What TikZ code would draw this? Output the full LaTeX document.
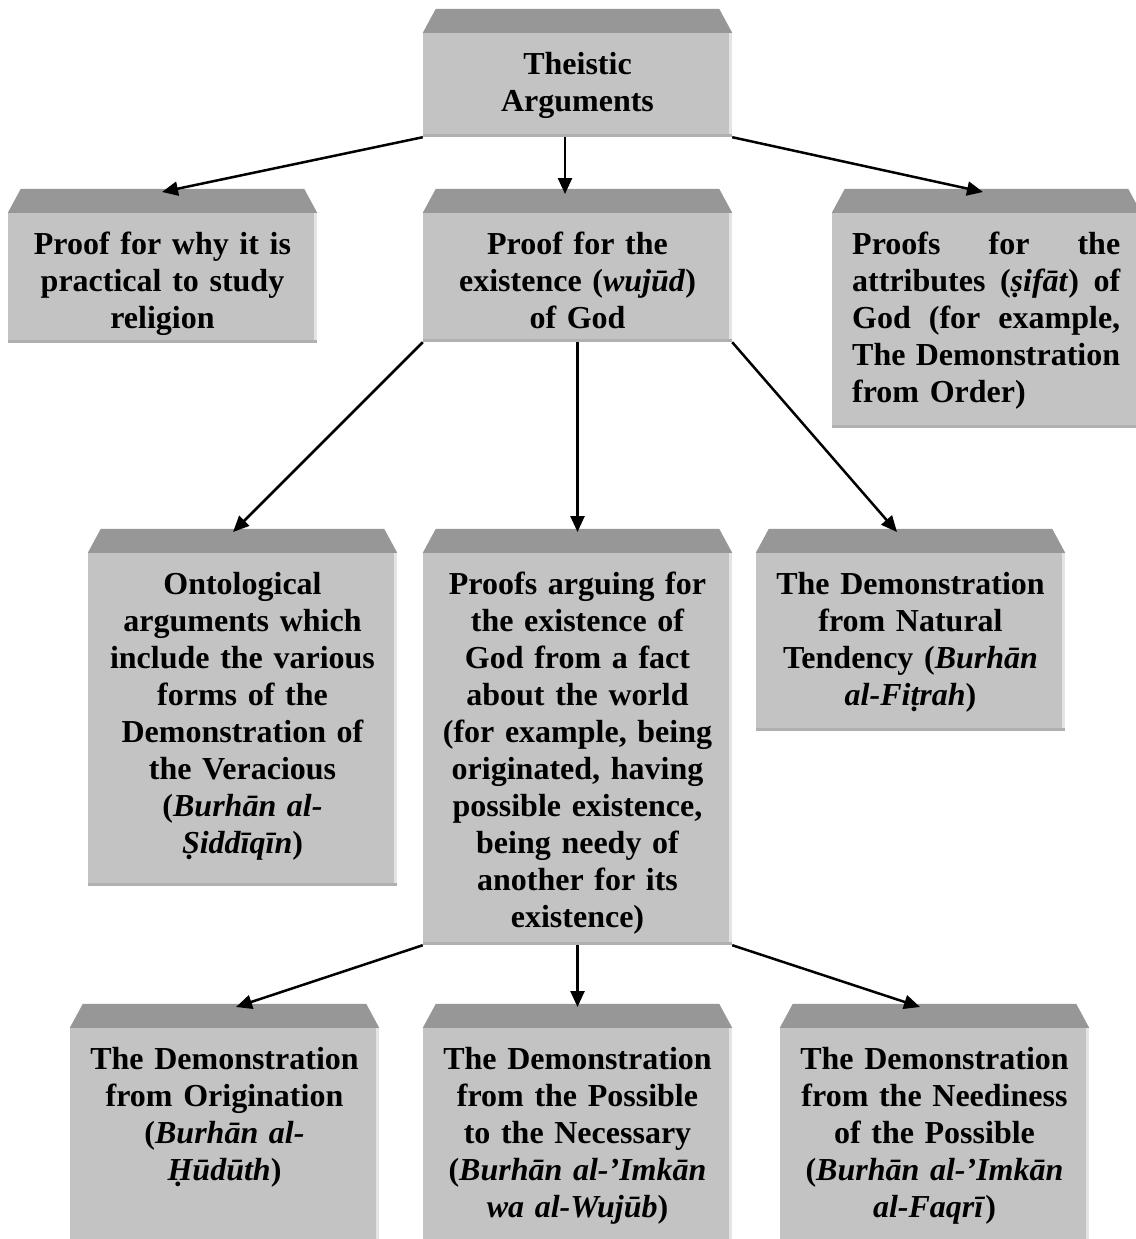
\documentclass[tikz,border=0pt]{standalone}
\usepackage{fontspec}
\setmainfont{Liberation Serif}
\usetikzlibrary{arrows.meta}
\definecolor{frontgray}{HTML}{C3C3C3}
\definecolor{capgray}{HTML}{979797}
\definecolor{edgelight}{HTML}{E4E4E4}
\definecolor{edgedark}{HTML}{B0B0B0}
\tikzset{
  front/.style={rectangle, inner sep=0pt, fill=frontgray,
    path picture={
      \fill[edgelight] ([xshift=-3pt]path picture bounding box.north east) rectangle (path picture bounding box.south east);
      \fill[edgedark] (path picture bounding box.south west) rectangle ([yshift=3pt]path picture bounding box.south east);
    }},
  txt/.style={anchor=north, inner sep=0pt, text width=300pt, align=center,
    font=\fontsize{32}{37}\selectfont\bfseries},
  arr/.style={line width=2.5pt, -{Triangle[length=16pt,width=14pt]}}
}
\newcommand\drawcap[1]{\fill[capgray] (#1.north west) -- ([xshift=13pt,yshift=24pt]#1.north west) -- ([xshift=-13pt,yshift=24pt]#1.north east) -- (#1.north east) -- cycle;}
\newcommand\jline[1]{\leavevmode\strut\hbox to 268pt{#1}}
\begin{document}
\begin{tikzpicture}[x=1pt,y=-1pt]
\useasboundingbox (0,0) rectangle (1135,1239);
\fill[white] (0,0) rectangle (1135,1239);
% front faces
\node[front, minimum width=309pt, minimum height=104pt] (b1) at (577.5,85) {};
\node[front, minimum width=309pt, minimum height=130pt] (b2) at (162.5,278) {};
\node[front, minimum width=309pt, minimum height=129pt] (b3) at (577.5,277.5) {};
\node[front, minimum width=309pt, minimum height=215pt] (b4) at (986.5,320.5) {};
\node[front, minimum width=309pt, minimum height=333pt] (b5) at (242.5,719.5) {};
\node[front, minimum width=309pt, minimum height=392pt] (b6) at (577.5,749) {};
\node[front, minimum width=309pt, minimum height=178pt] (b7) at (910.5,642) {};
\node[front, minimum width=309pt, minimum height=222pt] (b8) at (224.5,1139) {};
\node[front, minimum width=309pt, minimum height=222pt] (b9) at (577.5,1139) {};
\node[front, minimum width=309pt, minimum height=222pt] (b10) at (934.5,1139) {};
% caps
\drawcap{b1}\drawcap{b2}\drawcap{b3}\drawcap{b4}\drawcap{b5}
\drawcap{b6}\drawcap{b7}\drawcap{b8}\drawcap{b9}\drawcap{b10}
% texts
\node[txt] (t1) at (577.5,48) {\strut Theistic\\Arguments};
\node[txt] (t2) at (162.5,228) {\strut Proof for why it is\\practical to study\\religion};
\node[txt] (t3) at (577.5,228) {\strut Proof for the\\existence (\textit{wujūd})\\of God};
\node[txt, anchor=north west, text width=268pt, align=left] (t4) at (852,228)
  {\jline{Proofs\hfill for\hfill the}\\
   \jline{attributes\hfill (\textit{ṣifāt})\hfill of}\\
   \jline{God\hfill (for\hfill example,}\\
   \jline{The\hfill Demonstration}\\
   from Order)};
\node[txt] (t5) at (242.5,568) {\strut Ontological\\arguments which\\include the various\\forms of the\\Demonstration of\\the Veracious\\(\textit{Burhān al-}\\\textit{Ṣiddīqīn})};
\node[txt] (t6) at (577.5,568) {\strut Proofs arguing for\\the existence of\\God from a fact\\about the world\\(for example, being\\originated, having\\possible existence,\\being needy of\\another for its\\existence)};
\node[txt] (t7) at (910.5,568) {\strut The Demonstration\\from Natural\\Tendency (\textit{Burhān}\\\textit{al-Fiṭrah})};
\node[txt] (t8) at (224.5,1043) {\strut The Demonstration\\from Origination\\(\textit{Burhān al-}\\\textit{Ḥūdūth})};
\node[txt] (t9) at (577.5,1043) {\strut The Demonstration\\from the Possible\\to the Necessary\\(\textit{Burhān al-’Imkān}\\\textit{wa al-Wujūb})};
\node[txt] (t10) at (934.5,1043) {\strut The Demonstration\\from the Neediness\\of the Possible\\(\textit{Burhān al-’Imkān}\\\textit{al-Faqrī})};
% arrow targets on caps
\coordinate (c2) at (162,192);
\coordinate (c3) at (565,194);
\coordinate (c4) at (983,192);
\coordinate (c5) at (233,532);
\coordinate (c6) at (577.5,532);
\coordinate (c7) at (897,532);
\coordinate (c8) at (236,1007);
\coordinate (c9) at (577.5,1007);
\coordinate (c10) at (920,1007);
% connectors
\draw[arr] (b1.south west) -- (c2);
\draw[arr] (b1.south -| c3) -- (c3);
\draw[arr] (b1.south east) -- (c4);
\draw[arr] (b3.south west) -- (c5);
\draw[arr] (b3.south) -- (c6);
\draw[arr] (b3.south east) -- (c7);
\draw[arr] (b6.south west) -- (c8);
\draw[arr] (b6.south) -- (c9);
\draw[arr] (b6.south east) -- (c10);
\end{tikzpicture}
\end{document}
